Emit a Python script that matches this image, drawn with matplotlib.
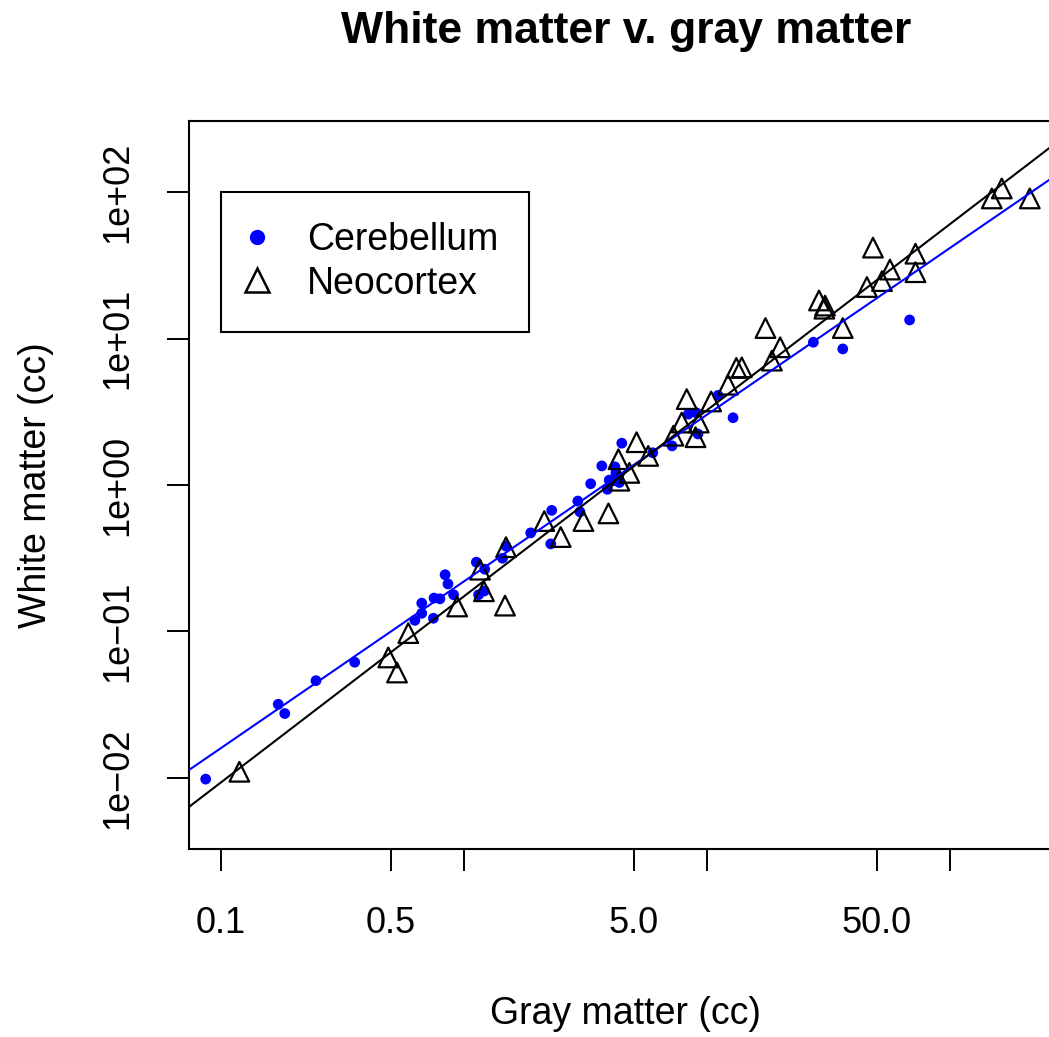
import numpy as np
import matplotlib.pyplot as plt
from matplotlib.lines import Line2D

plt.rcParams['font.family'] = ['Liberation Sans', 'DejaVu Sans']

# gray matter / white matter volumes (cc)
cereb_gray = [0.0865, 0.172, 0.183, 0.246, 0.355, 0.628, 0.670, 0.670, 0.748, 0.753,
              0.796, 0.836, 0.859, 0.906, 1.124, 1.148, 1.213, 1.217, 1.44, 1.489,
              1.881, 2.275, 2.296, 2.94, 3.00, 3.32, 3.69, 3.89, 3.96, 4.12,
              4.18, 4.22, 4.36, 4.46, 5.98, 7.18, 8.38, 9.05, 9.18, 11.1,
              12.8, 27.4, 36.2, 68.2]
cereb_white = [0.0098, 0.0318, 0.0275, 0.0461, 0.0616, 0.119, 0.133, 0.156, 0.123, 0.169,
               0.167, 0.244, 0.211, 0.178, 0.297, 0.178, 0.189, 0.266, 0.316, 0.382,
               0.471, 0.396, 0.671, 0.777, 0.656, 1.02, 1.35, 0.935, 1.08, 1.07,
               1.33, 1.21, 1.04, 1.93, 1.66, 1.85, 3.05, 3.11, 2.23, 4.09,
               2.88, 9.44, 8.50, 13.4]

neo_gray = [0.119, 0.488, 0.530, 0.590, 0.937, 1.164, 1.208, 1.475, 1.489, 2.14,
            2.50, 3.10, 3.93, 4.32, 4.36, 4.79, 5.13, 5.73, 7.27, 8.25,
            7.87, 8.97, 9.25, 10.4, 12.2, 13.2, 13.9, 17.4, 18.5, 20.0,
            28.9, 30.6, 30.4, 36.2, 45.5, 48.2, 52.5, 56.6, 72.1, 72.1,
            148.6, 163.3, 213]
neo_white = [0.0110, 0.0664, 0.0524, 0.0974, 0.148, 0.264, 0.188, 0.150, 0.376, 0.567,
             0.441, 0.567, 0.640, 1.50, 1.07, 1.21, 1.96, 1.58, 2.17, 3.86,
             2.67, 2.12, 2.67, 3.72, 4.84, 6.30, 6.36, 11.8, 7.07, 8.72,
             18.2, 16.8, 16.0, 11.8, 22.5, 41.8, 24.7, 29.6, 38.0, 28.4,
             90.6, 106, 90.6]

# log10(white) = slope * log10(gray) + intercept
cereb_fit = (1.1385, -0.658)
neo_fit = (1.271, -0.760)

xtick_vals = [0.1, 0.5, 1, 5, 10, 50, 100]
xtick_labels = ['0.1', '0.5', '', '5.0', '', '50.0', '']
ytick_vals = [1e-2, 1e-1, 1e0, 1e1, 1e2]
ytick_labels = ['1e\u221202', '1e\u221201', '1e+00', '1e+01', '1e+02']

W, H = 1049, 1037
fig = plt.figure(figsize=(W / 100, H / 100), dpi=100)
ax = fig.add_axes([189 / W, 1 - 849 / H, (1063 - 189) / W, (849 - 121) / H])
ax.set_xscale('log')
ax.set_yscale('log')

xmin, xmax = 10 ** -1.1317, 10 ** 2.465
ax.set_xlim(xmin, xmax)
ax.set_ylim(10 ** -2.486, 10 ** 2.486)

ax.scatter(cereb_gray, cereb_white, s=60, color='blue', edgecolors='none', zorder=2)
ax.scatter(neo_gray, neo_white, s=200, marker='^', facecolors='none',
           edgecolors='black', linewidths=1.6, zorder=3)

xx = np.array([xmin, xmax])
ax.plot(xx, 10 ** (cereb_fit[0] * np.log10(xx) + cereb_fit[1]), color='blue', lw=1.5, zorder=4)
ax.plot(xx, 10 ** (neo_fit[0] * np.log10(xx) + neo_fit[1]), color='black', lw=1.5, zorder=4)

ax.xaxis.set_minor_locator(plt.NullLocator())
ax.yaxis.set_minor_locator(plt.NullLocator())
ax.set_xticks(xtick_vals)
ax.set_xticklabels(xtick_labels)
ax.set_yticks(ytick_vals)
ax.set_yticklabels(ytick_labels, rotation=90, va='center')
ax.tick_params(axis='both', length=16, width=1.4, labelsize=26, color='black')
ax.tick_params(axis='x', pad=25)
ax.tick_params(axis='y', pad=23)

for side in ['left', 'bottom', 'top']:
    ax.spines[side].set_linewidth(1.5)
ax.spines['right'].set_visible(False)

ax.set_xlabel('Gray matter (cc)', fontsize=27, labelpad=40)
ax.set_ylabel('White matter (cc)', fontsize=27, labelpad=33)
fig.text((189 + 1063) / 2 / W, 1 - 32 / H, 'White matter v. gray matter',
         ha='center', va='center', fontsize=32, fontweight='bold')

handles = [Line2D([], [], marker='o', color='blue', ls='none', markersize=10),
           Line2D([], [], marker='^', markerfacecolor='none', markeredgecolor='black',
                  markeredgewidth=1.8, ls='none', markersize=17)]
leg = ax.legend(handles, ['Cerebellum', 'Neocortex'], loc='upper left',
                bbox_to_anchor=((221 - 189) / 874, (849 - 192) / 728),
                borderaxespad=0, fontsize=27, fancybox=False, framealpha=1,
                edgecolor='black', borderpad=0.8, labelspacing=0.2,
                handlelength=0.3, handletextpad=1.2)
leg.get_frame().set_linewidth(1.5)

fig.savefig('out.png', dpi=100)
